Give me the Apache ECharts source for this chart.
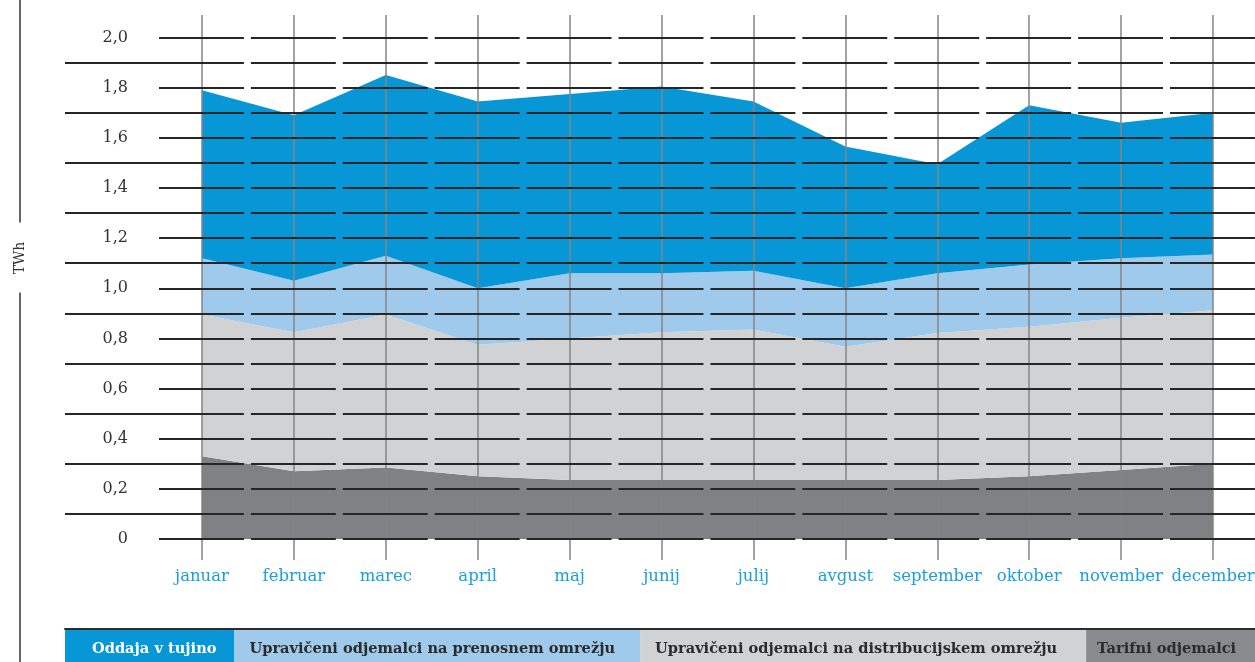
<!DOCTYPE html>
<html>
<head>
<meta charset="utf-8">
<title>Odjem električne energije</title>
<script src="https://cdn.jsdelivr.net/npm/echarts@6/dist/echarts.min.js"></script>
<style>
  html, body { margin: 0; padding: 0; background: #fff; }
  #main { width: 1255px; height: 662px; }
</style>
</head>
<body>
<div id="main"></div>
<script>
// podatki (TWh), prebrani s slike
const months = ['januar', 'februar', 'marec', 'april', 'maj', 'junij', 'julij', 'avgust', 'september', 'oktober', 'november', 'december'];
const tarifni = [0.33, 0.27, 0.285, 0.25, 0.235, 0.235, 0.235, 0.235, 0.235, 0.25, 0.275, 0.30];
const distribucija = [0.565, 0.555, 0.61, 0.525, 0.565, 0.59, 0.60, 0.532, 0.587, 0.596, 0.607, 0.612];
const prenos = [0.225, 0.205, 0.235, 0.225, 0.26, 0.235, 0.235, 0.233, 0.238, 0.249, 0.238, 0.223];
const oddaja = [0.67, 0.66, 0.72, 0.745, 0.715, 0.745, 0.675, 0.565, 0.435, 0.635, 0.54, 0.565];
const yMin = 0, yMax = 2, yStep = 0.2;

const names = ['Oddaja v tujino', 'Upravičeni odjemalci na prenosnem omrežju', 'Upravičeni odjemalci na distribucijskem omrežju', 'Tarifni odjemalci'];
const colors = ['#0796d6', '#a0caec', '#d1d2d4', '#808184'];
const legendColors = ['#0796d6', '#a0caec', '#d1d2d4', '#898a8d'];

const serif = 'DejaVu Serif';
const pitch = 1011 / 11;   // razmik med meseci v px

// odmiki besedila v legendi [levo, desno]
const legendPad = [[27, 18], [15, 25], [15, 29], [11, 40]];

var chart = echarts.init(document.getElementById('main'));

function area(name, data, color) {
  return {
    name: name, type: 'line', stack: 'skupaj', data: data,
    xAxisIndex: 0, yAxisIndex: 0,
    symbol: 'none', lineStyle: { width: 0 },
    areaStyle: { color: color, opacity: 1 }, color: color,
    emphasis: { disabled: true }
  };
}

function g(o) {
  o.outerBoundsMode = 'none';
  return o;
}

var option = {
  animation: false,
  grid: [
    g({ left: 202, right: 42, top: 37.5, bottom: 123 }),       // 0 podatki
    g({ left: 156, right: 0, top: 37.5, bottom: 123 }),        // 1 črtkane vodoravne črte
    g({ left: 65, width: 95, top: 62.6, bottom: 148.1 }),      // 2 polne kratke črte (lihe)
    g({ left: 202, right: 42, top: 15, bottom: 102 }),         // 3 navpične črte
    g({ left: 20, width: 1, top: 0, bottom: 440 }),            // 4 črta nad TWh
    g({ left: 20, width: 1, top: 293, bottom: 0 }),            // 5 črta pod TWh
    g({ left: 65, right: 0, top: 628, bottom: 33 })            // 6 črta nad legendo
  ],
  xAxis: [
    {
      gridIndex: 0, type: 'category', data: months, boundaryGap: false,
      axisLine: { show: false }, axisTick: { show: false }, splitLine: { show: false },
      axisLabel: { interval: 0, margin: 29, color: '#1a9ee0', fontFamily: serif, fontSize: 16.5 }
    },
    { gridIndex: 1, type: 'value', min: 0, max: 1, show: false },
    { gridIndex: 2, type: 'value', min: 0, max: 1, show: false },
    {
      gridIndex: 3, type: 'category', data: months, boundaryGap: false, z: 4,
      axisLine: { show: false }, axisTick: { show: false }, axisLabel: { show: false },
      splitLine: { show: true, lineStyle: { color: '#858585', width: 1.5 } }
    },
    { gridIndex: 4, type: 'value', min: 0, max: 1, show: false },
    { gridIndex: 5, type: 'value', min: 0, max: 1, show: false },
    {
      gridIndex: 6, type: 'value', min: 0, max: 1,
      axisLine: { show: true, lineStyle: { color: '#2b2b2b', width: 2 } },
      axisTick: { show: false }, axisLabel: { show: false }, splitLine: { show: false }
    }
  ],
  yAxis: [
    {
      gridIndex: 0, type: 'value', min: yMin, max: yMax, interval: yStep,
      axisLine: { show: false }, axisTick: { show: false }, splitLine: { show: false },
      axisLabel: {
        margin: 74, color: '#333', fontFamily: serif, fontSize: 16,
        formatter: function (v) { return v === 0 ? '0' : v.toFixed(1).replace('.', ','); }
      }
    },
    {
      gridIndex: 1, type: 'value', min: yMin, max: yMax, interval: 0.1, z: 5,
      axisLine: { show: false }, axisTick: { show: false }, axisLabel: { show: false },
      splitLine: {
        show: true,
        lineStyle: { color: '#262626', width: 2, type: [pitch - 7, 7], dashOffset: -3 }
      }
    },
    {
      gridIndex: 2, type: 'value', min: 0.1, max: 1.9, interval: 0.2, z: 5,
      axisLine: { show: false }, axisTick: { show: false }, axisLabel: { show: false },
      splitLine: { show: true, lineStyle: { color: '#262626', width: 2 } }
    },
    { gridIndex: 3, type: 'value', min: 0, max: 1, show: false },
    {
      gridIndex: 4, type: 'value', min: 0, max: 1,
      axisLine: { show: true, lineStyle: { color: '#333', width: 1.5 } },
      axisTick: { show: false }, axisLabel: { show: false }, splitLine: { show: false }
    },
    {
      gridIndex: 5, type: 'value', min: 0, max: 1,
      axisLine: { show: true, lineStyle: { color: '#333', width: 1.5 } },
      axisTick: { show: false }, axisLabel: { show: false }, splitLine: { show: false },
      name: 'TWh', nameLocation: 'end', nameGap: 35, nameRotate: 90,
      nameTextStyle: {
        fontFamily: serif, fontSize: 14, color: '#333',
        align: 'center', verticalAlign: 'middle'
      }
    },
    { gridIndex: 6, type: 'value', min: 0, max: 1, show: false }
  ],
  legend: {
    left: 60, top: 630, width: 1400, itemGap: -5, itemWidth: 0, itemHeight: 0, icon: 'rect',
    selectedMode: false, padding: 0,
    textStyle: { fontFamily: serif, fontWeight: 'bold', fontSize: 14.6, color: '#2b2b2b', lineHeight: 16 },
    data: names.map(function (n, i) {
      return {
        name: n,
        textStyle: {
          backgroundColor: legendColors[i],
          color: i === 0 ? '#fff' : '#2b2b2b',
          padding: [11, legendPad[i][1], 12, legendPad[i][0]]
        }
      };
    })
  },
  series: [
    area(names[3], tarifni, colors[3]),
    area(names[2], distribucija, colors[2]),
    area(names[1], prenos, colors[1]),
    area(names[0], oddaja, colors[0])
  ]
};

chart.setOption(option);
</script>
</body>
</html>
